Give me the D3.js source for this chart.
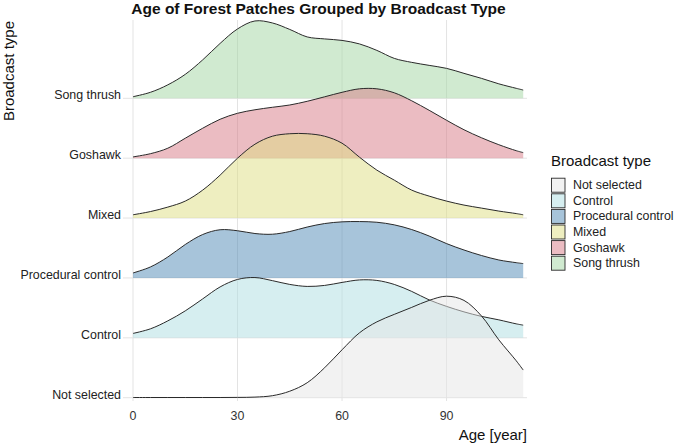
<!DOCTYPE html>
<html>
<head>
<meta charset="utf-8">
<script src="https://cdn.jsdelivr.net/npm/d3@7"></script>
<style>
  html, body { margin: 0; padding: 0; background: #fff; }
  svg { display: block; font-family: "Liberation Sans", Arial, sans-serif; }
</style>
</head>
<body>
<svg id="chart" width="675" height="446"></svg>
<script>
// ---------- data ----------
const title = "Age of Forest Patches Grouped by Broadcast Type";
const xTitle = "Age [year]";
const yTitle = "Broadcast type";
const legendTitle = "Broadcast type";

// categories, bottom ridge first
const categories = ["Not selected", "Control", "Procedural control", "Mixed", "Goshawk", "Song thrush"];
const fillColors = ["#e5e5e5", "#addde1", "#4f89b5", "#dddd81", "#d77985", "#a1d5a1"];

const xTicks = [0, 30, 60, 90];

// age grid (years) at which the smoothed density was read
const ages = [0, 5, 10, 15, 20, 25, 30, 35, 40, 45, 50, 55, 60, 65, 70, 75, 80, 85, 90, 95, 100, 105, 110, 112];

// scaled density per group (ridge height index; 60 = one row spacing)
const densNotSelected = [0.2, 0.2, 0.2, 0.2, 0.2, 0.2, 0.3, 0.6, 2, 6.5, 15, 30, 48, 65, 76, 83.5, 90.5, 97.5, 101.7, 97.5, 82, 58, 37, 27.7];
const densControl = [4.4, 9, 17, 27, 39, 51, 58.5, 60.4, 57.3, 53.5, 51.5, 52.5, 55.5, 58, 57.5, 53.5, 46.5, 38, 31.5, 26, 21.5, 18, 14, 12.7];
const densProcedural = [5, 11, 21, 33.5, 43.5, 48.3, 47.3, 44.5, 43.8, 46.5, 51, 54.5, 56.2, 56.5, 55.8, 53.2, 48.5, 42, 34.4, 28, 22.5, 18, 15.3, 14.4];
const densMixed = [3.3, 6.5, 11, 17, 28, 43, 60, 74, 82, 84.5, 84.5, 82, 75, 61, 48, 38, 28, 22, 17, 13, 10, 7, 4.5, 3.3];
const densGoshawk = [1.3, 4.5, 10, 20, 30, 39, 45, 48.5, 51, 53.3, 57, 61.5, 66, 69.5, 69.5, 65.5, 57.5, 48, 38, 28.5, 20.5, 13.5, 7.5, 5.6];
const densSongThrush = [1.6, 6, 13.5, 24, 38.5, 55, 69.5, 77.5, 75.5, 69, 61.5, 59.5, 58, 54.5, 48, 40, 36, 33, 30, 25, 20, 14.5, 10, 8.3];

const densities = [densNotSelected, densControl, densProcedural, densMixed, densGoshawk, densSongThrush];

// ---------- layout ----------
const svg = d3.select("#chart");
const panel = { left: 123, right: 527, top: 20, bottom: 401 };

const x = d3.scaleLinear().domain([0, 112]).range([133, 523.2]);
const y = d3.scalePoint().domain(categories).range([397.7, 98.3]);
const step = y.step();
const h = d3.scaleLinear().domain([0, 60]).range([0, step]);
const curve = d3.curveCatmullRom.alpha(0.5);

// grid
const grid = svg.append("g");
grid.selectAll("line.v").data(xTicks).join("line")
  .attr("x1", d => x(d)).attr("x2", d => x(d))
  .attr("y1", panel.top).attr("y2", panel.bottom)
  .attr("stroke", "#e3e3e3").attr("stroke-width", 1);
grid.selectAll("line.h").data(categories).join("line")
  .attr("x1", panel.left).attr("x2", panel.right)
  .attr("y1", d => y(d)).attr("y2", d => y(d))
  .attr("stroke", "#e3e3e3").attr("stroke-width", 1);

// ridges: top first, bottom drawn last (on top)
const order = d3.range(categories.length).reverse();
const ridges = svg.append("g");
order.forEach(i => {
  const base = y(categories[i]);
  const pts = ages.map((a, k) => [a, densities[i][k]]);
  const area = d3.area()
    .x(d => x(d[0])).y0(base).y1(d => Math.min(base, base - h(d[1])))
    .curve(curve);
  const line = d3.line()
    .x(d => x(d[0])).y(d => base - h(d[1]))
    .curve(curve);
  ridges.append("path").attr("d", area(pts))
    .attr("fill", fillColors[i]).attr("fill-opacity", 0.5);
  ridges.append("path").attr("d", line(pts))
    .attr("fill", "none").attr("stroke", "#2a2a2a").attr("stroke-width", 1);
});

// x axis tick labels
svg.append("g").selectAll("text").data(xTicks).join("text")
  .attr("x", d => x(d)).attr("y", 420)
  .attr("text-anchor", "middle").attr("font-size", 12.4).attr("fill", "#333")
  .text(d => d);

// y category labels
svg.append("g").selectAll("text").data(categories).join("text")
  .attr("x", 121).attr("y", d => y(d) + 1)
  .attr("text-anchor", "end").attr("font-size", 12.4).attr("fill", "#222")
  .text(d => d);

// titles
svg.append("text").attr("x", 318.5).attr("y", 14)
  .attr("text-anchor", "middle").attr("font-size", 15.5).attr("font-weight", "bold").attr("fill", "#111")
  .text(title);
svg.append("text").attr("x", 527).attr("y", 440)
  .attr("text-anchor", "end").attr("font-size", 15).attr("fill", "#111")
  .text(xTitle);
svg.append("text").attr("transform", "translate(14,21) rotate(-90)")
  .attr("text-anchor", "end").attr("font-size", 15).attr("fill", "#111")
  .text(yTitle);

// legend
const lg = svg.append("g").attr("transform", "translate(551,0)");
lg.append("text").attr("x", 0).attr("y", 166).attr("font-size", 15).attr("fill", "#111").text(legendTitle);
const rows = lg.selectAll("g.row").data(categories).join("g")
  .attr("transform", (d, i) => `translate(0,${177.7 + i * 15.6})`);
rows.append("rect").attr("x", 0.5).attr("y", 0.5).attr("width", 13.5).attr("height", 14)
  .attr("fill", (d, i) => fillColors[i]).attr("fill-opacity", 0.5)
  .attr("stroke", "#2a2a2a").attr("stroke-width", 0.9);
rows.append("text").attr("x", 22).attr("y", 11.6).attr("font-size", 12.4).attr("fill", "#222")
  .text(d => d);
</script>
</body>
</html>
